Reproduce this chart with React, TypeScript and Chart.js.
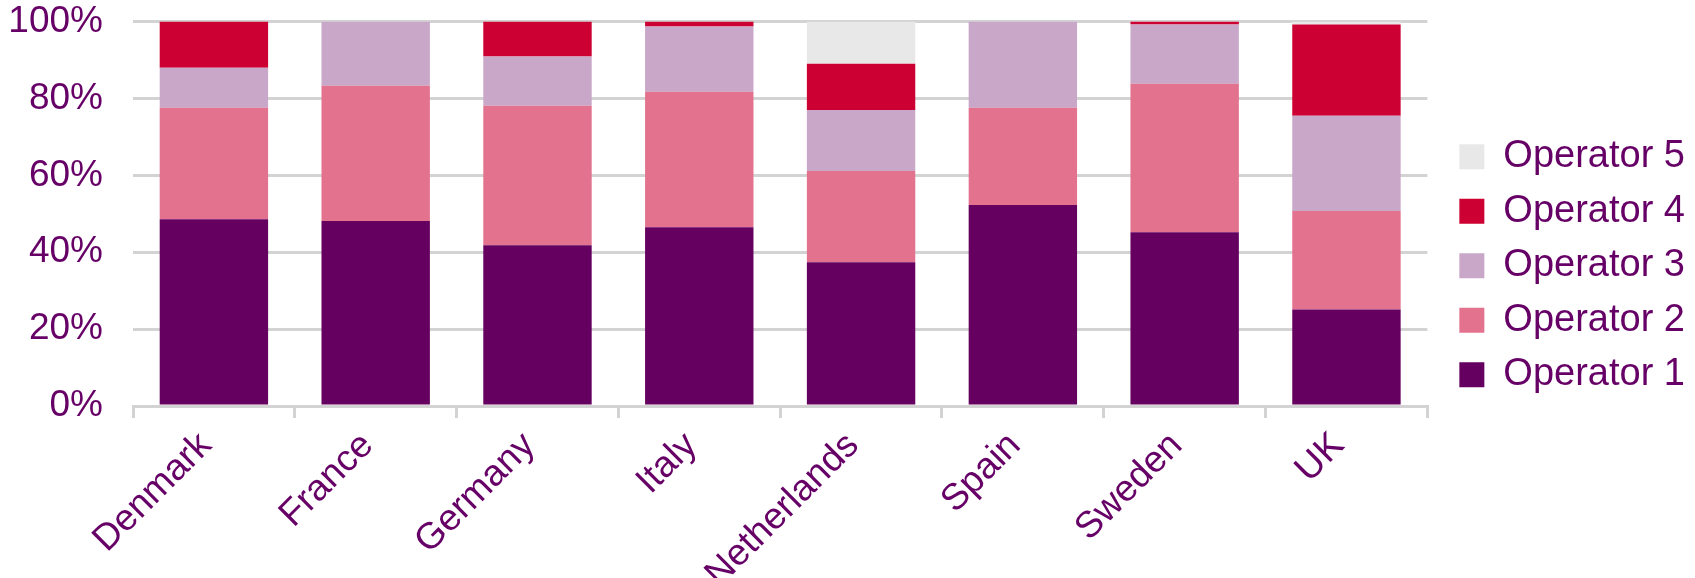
import React, { useEffect, useRef } from 'react';
import { Chart, registerables } from 'chart.js';

Chart.register(...registerables);

const categories = ['Denmark', 'France', 'Germany', 'Italy', 'Netherlands', 'Spain', 'Sweden', 'UK'];
const operator1 = [48.6, 48.1, 41.8, 46.5, 37.4, 52.3, 45.2, 25.1];
const operator2 = [29.0, 35.2, 36.3, 35.2, 23.7, 25.3, 38.6, 25.6];
const operator3 = [10.4, 16.7, 12.8, 17.0, 15.9, 22.4, 15.4, 24.8];
const operator4 = [12.0, 0, 9.1, 1.3, 12.0, 0, 0.8, 23.7];
const operator5 = [0, 0, 0, 0, 11.0, 0, 0, 0.8];
const seriesNames = ['Operator 1', 'Operator 2', 'Operator 3', 'Operator 4', 'Operator 5'];
const seriesColors = ['#660060', '#E2728E', '#C9A7C9', '#CC0033', '#E8E8E8'];
const yTicks = [0, 20, 40, 60, 80, 100];

const TEXT = '#660066';
const GRID = '#D3D3D3';
const FONT = '"Liberation Sans", Arial, sans-serif';

export default function App() {
  const ref = useRef<HTMLCanvasElement | null>(null);

  useEffect(() => {
    document.body.style.margin = '0';
    const canvas = ref.current;
    if (!canvas) return;
    const values = [operator1, operator2, operator3, operator4, operator5];
    const chart = new Chart(canvas, {
      type: 'bar',
      data: {
        labels: categories,
        datasets: values.map((v, i) => ({
          label: seriesNames[i],
          data: v,
          backgroundColor: seriesColors[i],
          borderWidth: 0,
          barPercentage: 0.67,
          categoryPercentage: 1,
        })),
      },
      options: {
        responsive: false,
        animation: false,
        maintainAspectRatio: false,
        layout: { padding: 0 },
        plugins: {
          tooltip: { enabled: false },
          legend: {
            position: 'right',
            align: 'start',
            reverse: true,
            title: {
              display: true,
              text: ' ',
              font: { size: 10, lineHeight: 1.2 },
              padding: { top: 109.2, bottom: 0 },
            },
            labels: {
              boxWidth: 25,
              boxHeight: 25,
              padding: 16.5,
              color: TEXT,
              font: { family: FONT, size: 38 },
            },
          },
        },
        scales: {
          x: {
            stacked: true,
            grid: {
              display: true,
              drawOnChartArea: false,
              drawTicks: true,
              tickLength: 12,
              color: GRID,
              lineWidth: 3,
              offset: true,
            },
            border: { display: true, color: GRID, width: 3 },
            ticks: {
              color: TEXT,
              font: { family: FONT, size: 37 },
              minRotation: 45,
              maxRotation: 45,
              padding: 6,
              labelOffset: -8,
            },
            afterFit: (scale: any) => {
              scale.height = 172;
            },
          },
          y: {
            stacked: true,
            min: 0,
            max: 100,
            grid: {
              color: GRID,
              lineWidth: 3,
              drawTicks: true,
              tickLength: 27,
              tickColor: 'rgba(0,0,0,0)',
            },
            border: { display: false },
            ticks: {
              color: TEXT,
              font: { family: FONT, size: 37, lineHeight: 1.0 },
              padding: 3,
              callback: (v: any) => v + '%',
            },
            afterBuildTicks: (scale: any) => {
              scale.ticks = yTicks.map((v) => ({ value: v }));
            },
            afterFit: (scale: any) => {
              scale.width = 133;
            },
          },
          gap: {
            type: 'linear',
            position: 'right',
            display: true,
            grid: { display: false, drawTicks: false },
            border: { display: false },
            ticks: { display: false },
            afterFit: (scale: any) => {
              scale.width = 15.5;
            },
          },
        },
      },
    } as any);
    return () => chart.destroy();
  }, []);

  return (
    <div style={{ position: 'fixed', left: 0, top: 0, width: 1695, height: 578, background: '#fff' }}>
      <canvas ref={ref} width={1695} height={578} style={{ width: 1695, height: 578, display: 'block' }} />
    </div>
  );
}
